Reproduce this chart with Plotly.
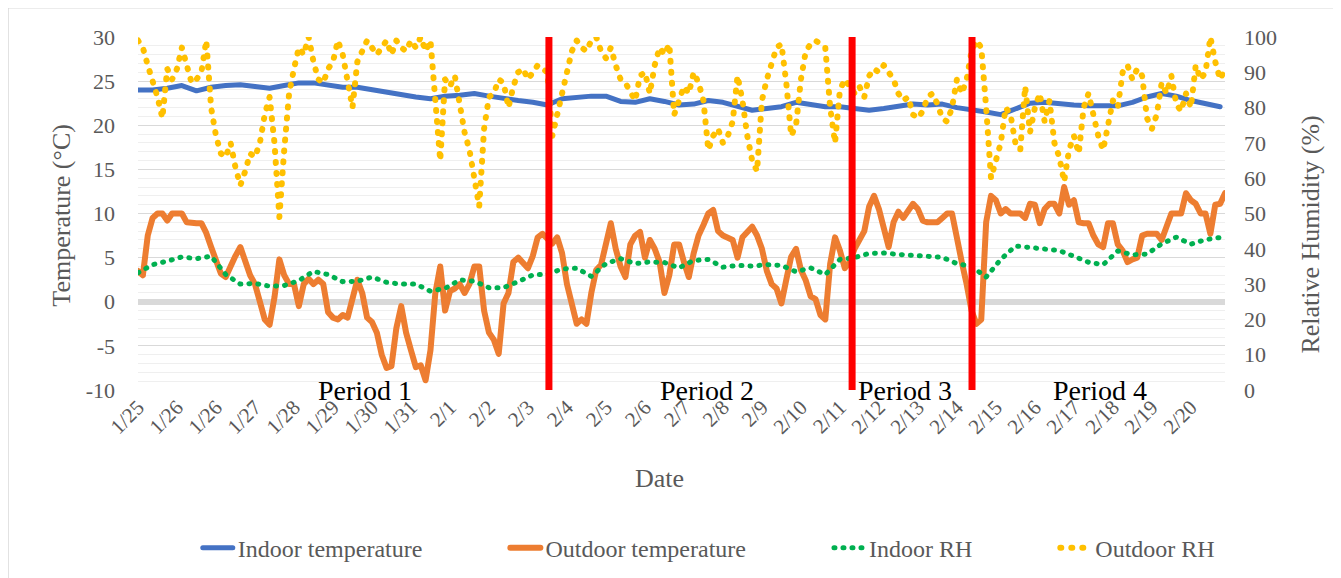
import plotly.graph_objects as go

# category axis: one entry per reading, labels every 8 readings
date_labels = ["1/25", "1/26", "1/26", "1/27", "1/28", "1/29", "1/30", "1/31", "2/1", "2/2",
               "2/3", "2/4", "2/5", "2/6", "2/7", "2/8", "2/9", "2/10", "2/11", "2/12",
               "2/13", "2/14", "2/15", "2/16", "2/17", "2/18", "2/19", "2/20"]
label_step = 8

temp_ticks = [-10, -5, 0, 5, 10, 15, 20, 25, 30]
temp_tick_text = ["-10", "-5", "0", "5", "10", "15", "20", "25", "30"]

outdoor_temp = [
    3.5, 3.0, 7.5, 9.5, 10, 10, 9.2, 10, 10, 10,
    9, 8.9, 8.9, 8.9, 7.8, 6.2, 4.5, 3.2, 2.8, 4.2,
    5.2, 6.2, 4.3, 3.0, 2.0, 0.0, -2.0, -2.6, 0.5, 4.8,
    3.0, 2.0, 2.0, -0.5, 2.0, 2.6, 2.0, 2.5, 2.0, -1.2,
    -1.8, -2.0, -1.5, -1.8, 0.5, 2.5, 1.0, -1.8, -2.3, -3.5,
    -6.0, -7.5, -7.3, -3.0, -0.5, -3.5, -5.5, -7.4, -7.2, -8.9,
    -5.5, 1.0, 4.0, -1.0, 1.2, 1.5, 2.0, 1.0, 2.0, 4.0,
    4.0, -1.0, -3.5, -4.3, -5.9, -0.2, 1.0, 4.5, 5.0, 4.3,
    3.8, 5.2, 7.3, 7.7, 7.2, 6.6, 7.3, 5.5, 2.0, -0.5,
    -2.5, -2.0, -2.5, 1.0, 3.6, 4.2, 6.6, 8.9, 6.0, 4.0,
    2.8, 6.5, 7.5, 7.9, 5.0, 7.0, 6.0, 4.5, 1.0, 3.0,
    6.5, 6.5, 4.5, 2.8, 5.5, 7.5, 8.7, 10.0, 10.4, 8.0,
    7.5, 7.3, 7.0, 5.0, 7.3, 7.9, 8.5, 7.5, 6.0, 3.5,
    2.0, 1.5, -0.2, 2.5, 5.1, 6.0, 3.6, 2.4, 0.6, 0.3,
    -1.5, -2.0, 4.3, 7.3, 5.8, 3.8, 4.5, 6.0, 7.0, 8.0,
    10.8, 12.0, 10.5, 8.1, 6.2, 9.0, 10.2, 9.5, 10.4, 11.1,
    10.5, 9.2, 9.0, 9.0, 9.0, 9.5, 10.0, 10.0, 7.0, 4.5,
    2.0, -1.0, -2.5, -2.0, 9.0, 12.0, 11.5, 10.0, 10.5, 10.0,
    10.0, 10.0, 9.5, 11.1, 11.0, 8.9, 10.5, 11.1, 11.1, 10.0,
    13.0, 11.0, 11.5, 9.0, 8.9, 8.9, 7.5, 6.5, 6.2, 8.9,
    8.9, 6.5, 5.8, 4.5, 4.8, 5.0, 7.5, 7.7, 7.7, 7.7,
    7.0, 8.5, 10.0, 10.0, 10.0, 12.3, 11.5, 11.1, 10.0, 10.0,
    7.7, 11.0, 11.1, 12.3]

outdoor_rh = [
    99, 97, 92, 88, 83, 77, 91, 88, 91, 97,
    92, 87, 88, 90, 99, 80, 72, 67, 66, 70,
    63, 58, 62, 67, 66, 70, 78, 83, 70, 49,
    68, 84, 91, 97, 95, 100, 93, 88, 87, 91,
    93, 99, 95, 88, 80, 93, 96, 99, 97, 95,
    97, 99, 95, 99, 97, 96, 99, 97, 100, 96,
    99, 80, 65, 88, 86, 89, 80, 73, 68, 60,
    52, 74, 83, 84, 88, 87, 80, 86, 90, 91,
    88, 90, 92, 91, 90, 72, 78, 85, 90, 96,
    99, 97, 96, 99, 100, 96, 94, 97, 92, 88,
    87, 84, 82, 89, 90, 84, 92, 97, 95, 98,
    78, 82, 86, 84, 90, 87, 82, 68, 72, 74,
    70, 72, 76, 89, 82, 72, 65, 62, 82, 88,
    93, 97, 98, 87, 72, 75, 88, 96, 98, 99,
    98, 97, 80, 70, 85, 88, 86, 84, 86, 83,
    89, 91, 90, 92, 90, 88, 84, 82, 83, 78,
    77, 79, 83, 84, 81, 77, 76, 80, 88, 84,
    88, 96, 99, 97, 80, 60, 65, 70, 80, 78,
    70, 68, 86, 73, 80, 84, 76, 82, 70, 66,
    59, 68, 72, 67, 80, 84, 78, 72, 68, 76,
    82, 80, 90, 92, 88, 91, 89, 77, 74, 78,
    87, 84, 89, 81, 79, 84, 80, 92, 88, 90,
    100, 93, 88, 91]

# indoor series were logged every 3rd reading
indoor_step = 3
indoor_temp = [
    24.0, 24.0, 24.2, 24.5, 23.9, 24.3, 24.5, 24.6, 24.4, 24.2,
    24.5, 24.8, 24.8, 24.6, 24.3, 24.3, 24.0, 23.8, 23.5, 23.2,
    23.0, 23.3, 23.4, 23.6, 23.3, 23.0, 22.8, 22.6, 22.3, 23.0,
    23.2, 23.3, 23.3, 22.7, 22.6, 23.0, 22.7, 22.3, 22.4, 22.8,
    22.6, 22.1, 21.7, 21.9, 22.1, 22.6, 22.3, 22.1, 22.1, 21.9,
    21.7, 21.9, 22.1, 22.4, 22.3, 22.4, 22.0, 21.8, 21.5, 21.2,
    21.8, 22.5, 22.6, 22.4, 22.3, 22.2, 22.2, 22.2, 22.6, 23.2,
    23.6, 23.3, 22.8, 22.4, 22.1]

indoor_rh = [
    33.2, 35.5, 36.5, 37.7, 37.2, 37.9, 32.7, 30.0, 30.2, 29.4,
    29.6, 31.0, 33.6, 32.7, 30.7, 30.8, 32.0, 30.5, 30.0, 30.0,
    28.0, 28.8, 31.2, 30.8, 29.0, 29.0, 30.7, 32.6, 32.8, 34.3,
    34.5, 32.2, 35.8, 37.2, 35.8, 36.3, 36.1, 34.6, 36.7, 37.0,
    34.8, 35.3, 35.1, 35.5, 35.3, 33.5, 34.6, 32.7, 37.0, 37.5,
    38.7, 38.8, 38.4, 38.2, 37.9, 37.6, 35.8, 35.0, 32.0, 37.0,
    40.8, 40.4, 40.0, 39.5, 37.9, 36.2, 35.5, 39.4, 38.3, 38.5,
    41.4, 43.3, 41.3, 42.6, 43.2]

series_names = ["Indoor temperature", "Outdoor temperature", "Indoor RH", "Outdoor RH"]

# period boundaries (reading index) and period labels
period_bounds = [84.3, 146.5, 171.1]
period_labels = ["Period 1", "Period 2", "Period 3", "Period 4"]
period_label_x = [46.6, 116.7, 157.4, 197.4]

n = len(outdoor_temp)
x_all = list(range(n))
x_indoor = list(range(0, n, indoor_step))
tick_vals = [k * label_step for k in range(len(date_labels))]

FONT = "Liberation Serif"
GREY = "#595959"
PAD = "\u00a0" * 13  # widen legend entries like the Excel legend


def legend_name(i):
    return series_names[i] + (PAD if i < len(series_names) - 1 else "")


fig = go.Figure()
fig.add_trace(go.Scatter(x=x_indoor, y=indoor_temp, name=legend_name(0), mode="lines",
                         line=dict(color="#4472C4", width=5)))
fig.add_trace(go.Scatter(x=x_all, y=outdoor_temp, name=legend_name(1), mode="lines",
                         line=dict(color="#ED7D31", width=6)))
fig.add_trace(go.Scatter(x=x_indoor, y=indoor_rh, name=legend_name(2), mode="lines", yaxis="y2",
                         line=dict(color="#00B050", width=5, dash="1px,8px")))
fig.add_trace(go.Scatter(x=x_all, y=outdoor_rh, name=legend_name(3), mode="lines", yaxis="y2",
                         line=dict(color="#FFC000", width=6, dash="1px,10px")))

for b in period_bounds:
    fig.add_shape(type="line", xref="x", yref="paper", x0=b, x1=b, y0=0, y1=1,
                  line=dict(color="#FF0000", width=7), layer="above")

for lab, lx in zip(period_labels, period_label_x):
    fig.add_annotation(x=lx, y=-10, xref="x", yref="y", text=lab, showarrow=False,
                       xanchor="center", yanchor="middle",
                       font=dict(family=FONT, size=28, color="black"))

# axis titles
fig.add_annotation(x=-0.0699, y=0.494, xref="paper", yref="paper", text="Temperature (°C)",
                   textangle=-90, showarrow=False, xanchor="center", yanchor="middle",
                   font=dict(family=FONT, size=26, color=GREY))
fig.add_annotation(x=1.079, y=0.44, xref="paper", yref="paper", text="Relative Humidity (%)",
                   textangle=-90, showarrow=False, xanchor="center", yanchor="middle",
                   font=dict(family=FONT, size=26, color=GREY))
fig.add_annotation(x=0.48, y=-0.252, xref="paper", yref="paper", text="Date",
                   showarrow=False, xanchor="center", yanchor="middle",
                   font=dict(family=FONT, size=26, color=GREY))

# chart area border (only top / left fall inside the canvas)
fig.add_shape(type="rect", xref="paper", yref="paper", x0=-0.1196, x1=1.2, y0=-0.7, y1=1.083,
              line=dict(color="#D9D9D9", width=1.5), layer="below")

fig.update_layout(
    width=1341, height=578,
    margin=dict(l=130, r=124, t=29, b=196),
    paper_bgcolor="white", plot_bgcolor="white",
    font=dict(family=FONT, size=22, color=GREY),
    showlegend=True,
    legend=dict(orientation="h", x=0.055, xanchor="left", y=-0.448, yanchor="middle",
                font=dict(family=FONT, size=24, color=GREY)),
    xaxis=dict(range=[0, n - 1], tickmode="array", tickvals=tick_vals, ticktext=date_labels,
               tickangle=-45, tickfont=dict(size=21), showgrid=False, zeroline=False,
               showline=False, ticks="", automargin=False),
    yaxis=dict(range=[-10, 30], tickmode="array", tickvals=temp_ticks, ticktext=temp_tick_text,
               showgrid=True, gridcolor="#D9D9D9",
               gridwidth=1.2, zeroline=True, zerolinecolor="#D9D9D9", zerolinewidth=6,
               minor=dict(tickmode="linear", tick0=0, dtick=1, showgrid=True,
                          gridcolor="#EFEFEF", gridwidth=1),
               showline=False, ticks="", ticklabelstandoff=22, automargin=False),
    yaxis2=dict(range=[0, 100], dtick=10, overlaying="y", side="right", showgrid=False,
                zeroline=False, showline=False, ticks="", ticklabelstandoff=18,
                automargin=False),
)

post = """
var gd = document.getElementById('{plot_id}');
gd.querySelectorAll('path.js-line').forEach(function(p){
  p.style.strokeLinecap = 'round';
  p.style.strokeLinejoin = 'round';
});
"""

fig.write_html("out.html", post_script=post)
